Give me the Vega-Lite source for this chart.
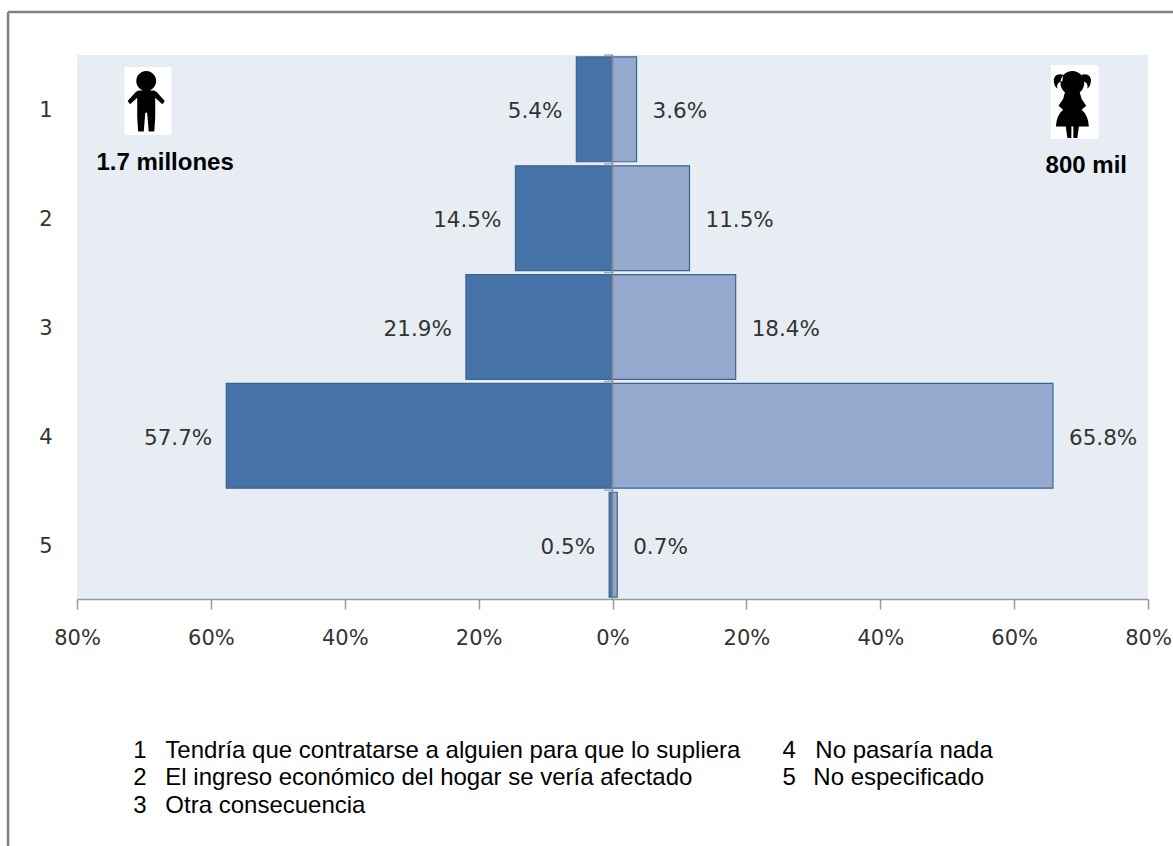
{
"$schema":"https://vega.github.io/schema/vega-lite/v6.json",
"width":1071,"height":544,
"autosize":"none",
"padding":{"left":77,"top":55,"right":25,"bottom":247},
"background":"white",
"view":{"fill":"#E8EDF4","stroke":null},
"config":{"text":{"font":"DejaVu Sans"}},
"datasets":{
"barras":[
{"cat":"1","genero":"Hombres","value":-5.4,"label":"5.4%"},
{"cat":"2","genero":"Hombres","value":-14.5,"label":"14.5%"},
{"cat":"3","genero":"Hombres","value":-21.9,"label":"21.9%"},
{"cat":"4","genero":"Hombres","value":-57.7,"label":"57.7%"},
{"cat":"5","genero":"Hombres","value":-0.5,"label":"0.5%"},
{"cat":"1","genero":"Mujeres","value":3.6,"label":"3.6%"},
{"cat":"2","genero":"Mujeres","value":11.5,"label":"11.5%"},
{"cat":"3","genero":"Mujeres","value":18.4,"label":"18.4%"},
{"cat":"4","genero":"Mujeres","value":65.8,"label":"65.8%"},
{"cat":"5","genero":"Mujeres","value":0.7,"label":"0.7%"}
],
"notas":[
{"t":"1","x":-71.6,"y":6.96},
{"t":"Tendría que contratarse a alguien para que lo supliera","x":-66.8,"y":6.96},
{"t":"2","x":-71.6,"y":7.208},
{"t":"El ingreso económico del hogar se vería afectado","x":-66.8,"y":7.208},
{"t":"3","x":-71.6,"y":7.466},
{"t":"Otra consecuencia","x":-66.8,"y":7.466},
{"t":"4","x":25.4,"y":6.96},
{"t":"No pasaría nada","x":30.3,"y":6.96},
{"t":"5","x":25.4,"y":7.208},
{"t":"No especificado","x":30,"y":7.208}
],
"totales":[
{"t":"1.7 millones","x":-77.1,"y":1.557},
{"t":"800 mil","x":64.7,"y":1.585}
],
"fondos":[
{"x":-72.9,"x2":-65.9,"y":0.61,"y2":1.235},
{"x":65.5,"x2":72.6,"y":0.592,"y2":1.272}
],
"marcas":[{"y":0.5},{"y":1.5},{"y":2.5},{"y":3.5},{"y":4.5}]
},
"layer":[
{"data":{"name":"barras"},
 "mark":{"type":"bar","strokeWidth":1.2},
 "encoding":{
  "y":{"field":"cat","type":"nominal","title":null,"scale":{"domain":["1","2","3","4","5"],"paddingInner":0.037,"paddingOuter":0.018},
    "axis":{"ticks":false,"domain":false,"labelPadding":25,"labelAngle":0,"labelOffset":2,"labelFont":"DejaVu Sans","labelFontSize":21,"labelColor":"#333333"}},
  "x":{"field":"value","type":"quantitative","stack":null,"title":null,"scale":{"domain":[-80,80]},
    "axis":{"values":[-80,-60,-40,-20,0,20,40,60,80],"labelExpr":"abs(datum.value)+'%'","grid":false,"tickSize":10,"tickColor":"#999999","domainColor":"#999999","tickWidth":1.5,"domainWidth":1.5,"labelPadding":18,"labelFont":"DejaVu Sans","labelFontSize":21,"labelColor":"#333333","labelFlush":false,"labelOverlap":false}},
  "color":{"field":"genero","type":"nominal","legend":null,"scale":{"domain":["Hombres","Mujeres"],"range":["#4573A7","#95A9CF"]}},
  "stroke":{"field":"genero","type":"nominal","legend":null,"scale":{"domain":["Hombres","Mujeres"],"range":["#3A6494","#3A6494"]}}
 }},
{"data":{"name":"barras"},
 "transform":[{"filter":"datum.genero==='Hombres'"}],
 "mark":{"type":"text","align":"right","dx":-14,"dy":3,"fontSize":21.5,"font":"DejaVu Sans","color":"#333333"},
 "encoding":{
  "y":{"field":"cat","type":"nominal","axis":null,"scale":{"domain":["1","2","3","4","5"],"paddingInner":0.037,"paddingOuter":0.018}},
  "x":{"field":"value","type":"quantitative","title":null,"scale":{"domain":[-80,80]}},
  "text":{"field":"label"}
 }},
{"data":{"name":"barras"},
 "transform":[{"filter":"datum.genero==='Mujeres'"}],
 "mark":{"type":"text","align":"left","dx":16,"dy":3,"fontSize":21.5,"font":"DejaVu Sans","color":"#333333"},
 "encoding":{
  "y":{"field":"cat","type":"nominal","axis":null,"scale":{"domain":["1","2","3","4","5"],"paddingInner":0.037,"paddingOuter":0.018}},
  "x":{"field":"value","type":"quantitative","title":null,"scale":{"domain":[-80,80]}},
  "text":{"field":"label"}
 }},
{"data":{"values":[{"x":0,"y":0.5,"y2":5.5}]},
 "mark":{"type":"rule","color":"#8A8A8A","strokeWidth":1.5},
 "encoding":{
  "x":{"field":"x","type":"quantitative","title":null,"scale":{"domain":[-80,80]}},
  "y":{"field":"y","type":"quantitative","axis":null,"scale":{"domain":[0.5,5.5],"reverse":true}},
  "y2":{"field":"y2"}
 }},
{"data":{"name":"marcas"},
 "mark":{"type":"tick","orient":"horizontal","color":"#8A8A8A","size":9,"thickness":1.5,"xOffset":-4},
 "encoding":{
  "x":{"datum":0,"type":"quantitative","title":null,"scale":{"domain":[-80,80]}},
  "y":{"field":"y","type":"quantitative","axis":null,"scale":{"domain":[0.5,5.5],"reverse":true}}
 }},
{"data":{"values":[{"x":-90.3,"x2":-90.3,"y":0.105,"y2":7.8},{"x":-90.3,"x2":85,"y":0.105,"y2":0.105}]},
 "mark":{"type":"rule","color":"#808080","strokeWidth":2.5,"clip":false},
 "encoding":{
  "x":{"field":"x","type":"quantitative","title":null,"scale":{"domain":[-80,80]}},
  "x2":{"field":"x2"},
  "y":{"field":"y","type":"quantitative","axis":null,"scale":{"domain":[0.5,5.5],"reverse":true}},
  "y2":{"field":"y2"}
 }},
{"data":{"name":"fondos"},
 "mark":{"type":"rect","color":"white"},
 "encoding":{
  "x":{"field":"x","type":"quantitative","title":null,"scale":{"domain":[-80,80]}},
  "x2":{"field":"x2"},
  "y":{"field":"y","type":"quantitative","axis":null,"scale":{"domain":[0.5,5.5],"reverse":true}},
  "y2":{"field":"y2"}
 }},
{"data":{"values":[{"x":-69.66,"y":0.932}]},
 "mark":{"type":"point","filled":true,"opacity":1,"color":"black","size":3844,"shape":"M-.32,-.68 A.32,.32 0 1 1 .32,-.68 A.32,.32 0 1 1 -.32,-.68 Z M-.25,-.37 L.25,-.37 L.33,-.33 L.6,-.03 L.52,.07 L.29,-.14 L.29,.5 L.26,.95 L.08,.95 L.03,.35 L-.03,.35 L-.08,.95 L-.26,.95 L-.29,.5 L-.29,-.14 L-.52,.07 L-.6,-.03 L-.33,-.33Z"},
 "encoding":{
  "x":{"field":"x","type":"quantitative","title":null,"scale":{"domain":[-80,80]}},
  "y":{"field":"y","type":"quantitative","axis":null,"scale":{"domain":[0.5,5.5],"reverse":true}}
 }},
{"data":{"values":[{"x":68.7,"y":0.96}]},
 "mark":{"type":"point","filled":true,"opacity":1,"color":"black","size":4356,"shape":"M-.36,-.67 A.36,.36 0 1 1 .36,-.67 A.36,.36 0 1 1 -.36,-.67 Z M-.28,-.92 Q-.58,-.98 -.56,-.7 Q-.54,-.55 -.45,-.5 Q-.5,-.7 -.3,-.72Z M.28,-.92 Q.58,-.98 .56,-.7 Q.54,-.55 .45,-.5 Q.5,-.7 .3,-.72Z M-.22,-.4 L.22,-.4 L.28,-.18 L.42,.02 L.28,.14 Q.48,.3 .5,.65 L.2,.65 L.15,1 L.03,1 L.03,.65 L-.03,.65 L-.03,1 L-.15,1 L-.2,.65 L-.5,.65 Q-.48,.3 -.28,.14 L-.42,.02 L-.28,-.18Z"},
 "encoding":{
  "x":{"field":"x","type":"quantitative","title":null,"scale":{"domain":[-80,80]}},
  "y":{"field":"y","type":"quantitative","axis":null,"scale":{"domain":[0.5,5.5],"reverse":true}}
 }},
{"data":{"name":"totales"},
 "mark":{"type":"text","align":"left","baseline":"alphabetic","font":"Liberation Sans","fontWeight":"bold","fontSize":24,"color":"black"},
 "encoding":{
  "x":{"field":"x","type":"quantitative","title":null,"scale":{"domain":[-80,80]}},
  "y":{"field":"y","type":"quantitative","axis":null,"scale":{"domain":[0.5,5.5],"reverse":true}},
  "text":{"field":"t"}
 }},
{"data":{"name":"notas"},
 "mark":{"type":"text","align":"left","baseline":"alphabetic","font":"Liberation Sans","fontSize":24,"color":"black"},
 "encoding":{
  "x":{"field":"x","type":"quantitative","title":null,"scale":{"domain":[-80,80]}},
  "y":{"field":"y","type":"quantitative","axis":null,"scale":{"domain":[0.5,5.5],"reverse":true}},
  "text":{"field":"t"}
 }}
],
"resolve":{"scale":{"y":"independent","color":"independent","stroke":"independent"},"axis":{"y":"independent"}}
}
